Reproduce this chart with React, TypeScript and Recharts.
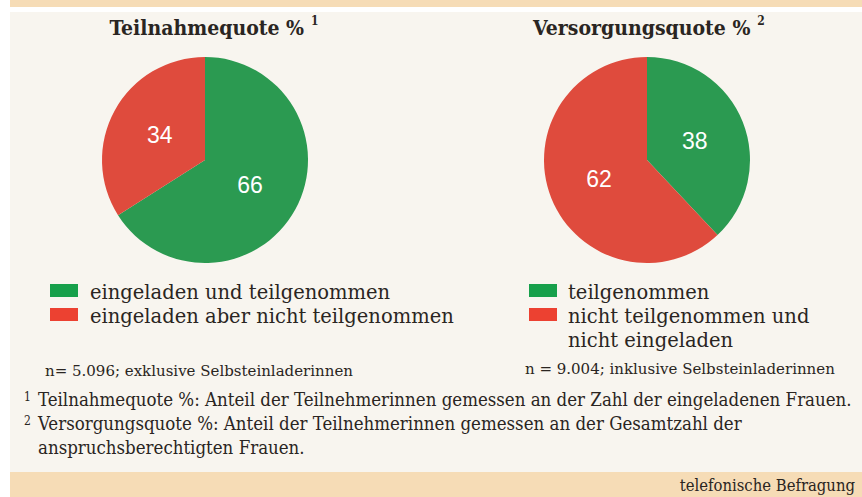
import { Cell, Pie, PieChart } from "recharts"

// Teilnahmequote (left) and Versorgungsquote (right), percent
const teilnahmeNames = ["eingeladen und teilgenommen", "eingeladen aber nicht teilgenommen"]
const teilnahmeValues = [66, 34]
const versorgungNames = ["teilgenommen", "nicht teilgenommen und nicht eingeladen"]
const versorgungValues = [38, 62]

const PIE_COLORS = ["#2b9a51", "#df4b3d"]
const SWATCH_COLORS = ["#17a04b", "#ec4131"]

const BAND = "#f6dcb6"
const PANEL = "#f8f5ef"
const INK = "#2a2522"

const SERIF = "'DejaVu Serif', serif"
const COND = "'DejaVu Serif Condensed', 'DejaVu Serif', serif"

const teilnahmeData = teilnahmeNames.map((name, i) => ({ name, value: teilnahmeValues[i] }))
const versorgungData = versorgungNames.map((name, i) => ({ name, value: versorgungValues[i] }))

const RAD = Math.PI / 180

function renderLabel(props: any) {
  const { cx, cy, midAngle, outerRadius, value } = props
  const r = outerRadius * 0.5
  const x = cx + r * Math.cos(-midAngle * RAD)
  const y = cy + r * Math.sin(-midAngle * RAD)
  return (
    <text
      x={x}
      y={y}
      fill="#fff"
      fontFamily="'Liberation Sans', Arial, sans-serif"
      fontSize={23}
      textAnchor="middle"
      dominantBaseline="central"
    >
      {value}
    </text>
  )
}

function Title({ x, text, sup }: { x: number; text: string; sup: string }) {
  return (
    <text x={x} y={35} textAnchor="middle" fontFamily={COND} fontWeight="bold" fontSize={21} fill={INK}>
      {text}
      <tspan fontSize={12} dx={7} dy={-10}>
        {sup}
      </tspan>
    </text>
  )
}

export default function App() {
  return (
    <div style={{ position: "absolute", left: 0, top: 0, width: 862, height: 497, background: "#fff" }}>
      <div style={{ position: "absolute", left: 10, top: 0, width: 852, height: 7, background: BAND }} />
      <div style={{ position: "absolute", left: 10, top: 12, width: 852, height: 460, background: PANEL }} />
      <div style={{ position: "absolute", left: 10, top: 472, width: 852, height: 25, background: BAND }} />

      <div style={{ position: "absolute", left: 0, top: 0 }}>
        <PieChart width={862} height={497} margin={{ top: 0, right: 0, bottom: 0, left: 0 }}>
          <Pie
            data={teilnahmeData}
            dataKey="value"
            cx={205}
            cy={160}
            outerRadius={103}
            startAngle={90}
            endAngle={-270}
            stroke="none"
            label={renderLabel}
            labelLine={false}
            isAnimationActive={false}
          >
            {teilnahmeData.map((d, i) => (
              <Cell key={d.name} fill={PIE_COLORS[i]} />
            ))}
          </Pie>
          <Pie
            data={versorgungData}
            dataKey="value"
            cx={647}
            cy={160}
            outerRadius={103}
            startAngle={90}
            endAngle={-270}
            stroke="none"
            label={renderLabel}
            labelLine={false}
            isAnimationActive={false}
          >
            {versorgungData.map((d, i) => (
              <Cell key={d.name} fill={PIE_COLORS[i]} />
            ))}
          </Pie>
        </PieChart>
      </div>

      <svg width={862} height={497} style={{ position: "absolute", left: 0, top: 0, pointerEvents: "none" }}>
        <Title x={214} text="Teilnahmequote %" sup="1" />
        <Title x={649} text="Versorgungsquote %" sup="2" />

        {/* left legend */}
        <rect x={50} y={284} width={28} height={13} fill={SWATCH_COLORS[0]} />
        <rect x={50} y={308} width={28} height={13} fill={SWATCH_COLORS[1]} />
        <text fontFamily={SERIF} fontSize={19.5} fill={INK}>
          <tspan x={90} y={299}>{teilnahmeNames[0]}</tspan>
          <tspan x={90} y={323}>{teilnahmeNames[1]}</tspan>
        </text>

        {/* right legend */}
        <rect x={529} y={284} width={28} height={13} fill={SWATCH_COLORS[0]} />
        <rect x={529} y={308} width={28} height={13} fill={SWATCH_COLORS[1]} />
        <text fontFamily={SERIF} fontSize={19.5} fill={INK}>
          <tspan x={568} y={299}>{versorgungNames[0]}</tspan>
          <tspan x={568} y={323}>nicht teilgenommen und</tspan>
          <tspan x={568} y={347}>nicht eingeladen</tspan>
        </text>

        <text x={45} y={376} fontFamily={SERIF} fontSize={15} fill={INK}>
          n= 5.096; exklusive Selbsteinladerinnen
        </text>
        <text x={525} y={374} fontFamily={SERIF} fontSize={15} fill={INK}>
          n = 9.004; inklusive Selbsteinladerinnen
        </text>

        <text fontFamily={COND} fontSize={18.5} fill={INK}>
          <tspan x={24} y={401} fontSize={12}>1</tspan>
          <tspan x={38} y={406}>Teilnahmequote %: Anteil der Teilnehmerinnen gemessen an der Zahl der eingeladenen Frauen.</tspan>
          <tspan x={24} y={425} fontSize={12}>2</tspan>
          <tspan x={38} y={430}>Versorgungsquote %: Anteil der Teilnehmerinnen gemessen an der Gesamtzahl der</tspan>
          <tspan x={38} y={454}>anspruchsberechtigten Frauen.</tspan>
        </text>

        <text x={855} y={491} textAnchor="end" fontFamily={COND} fontSize={16.5} fill={INK}>
          telefonische Befragung
        </text>
      </svg>
    </div>
  )
}
